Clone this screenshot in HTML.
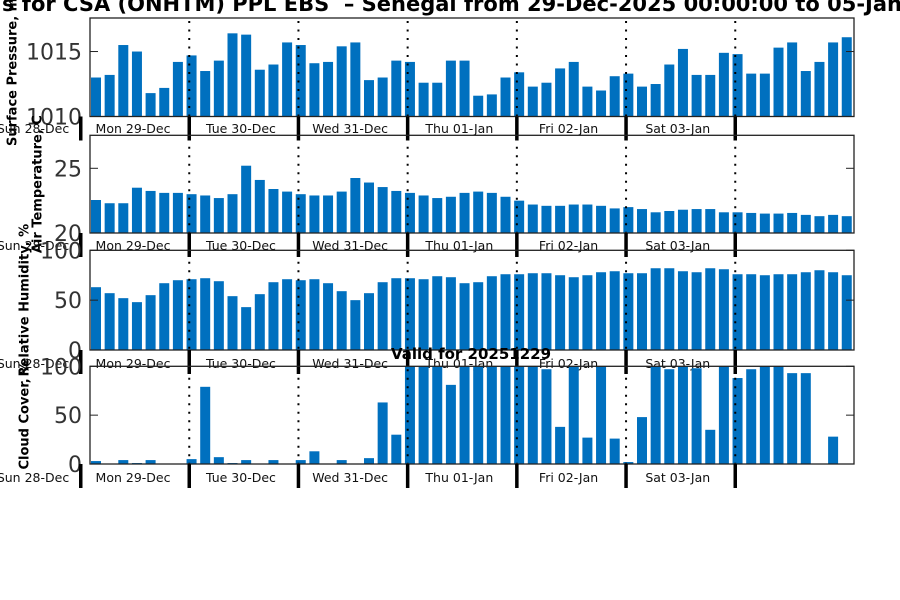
<!DOCTYPE html>
<html><head><meta charset="utf-8"><style>
html,body{margin:0;padding:0;background:#fff;width:900px;height:600px;overflow:hidden}
svg{display:block}
text{font-family:"DejaVu Sans","Liberation Sans",sans-serif}
</style></head><body>
<svg id="chart" width="900" height="600" viewBox="0 0 900 600"></svg>
<script>
const pressure=[1013.0,1013.2,1015.5,1015.0,1011.8,1012.2,1014.2,1014.7,1013.5,1014.3,1016.4,1016.3,1013.6,1014.0,1015.7,1015.5,1014.1,1014.2,1015.4,1015.7,1012.8,1013.0,1014.3,1014.2,1012.6,1012.6,1014.3,1014.3,1011.6,1011.7,1013.0,1013.4,1012.3,1012.6,1013.7,1014.2,1012.3,1012.0,1013.1,1013.3,1012.3,1012.5,1014.0,1015.2,1013.2,1013.2,1014.9,1014.8,1013.3,1013.3,1015.3,1015.7,1013.5,1014.2,1015.7,1016.1];
const temperature=[22.55,22.3,22.3,23.5,23.25,23.1,23.1,23.0,22.9,22.7,23.0,25.2,24.1,23.4,23.2,23.0,22.9,22.9,23.2,24.25,23.9,23.55,23.25,23.1,22.9,22.7,22.8,23.1,23.2,23.1,22.8,22.5,22.2,22.1,22.1,22.2,22.2,22.1,21.9,22.0,21.85,21.6,21.7,21.8,21.85,21.85,21.6,21.6,21.55,21.5,21.5,21.55,21.4,21.3,21.4,21.3];
const humidity=[63,57,52,48,55,67,70,71,72,69,54,43,56,68,71,70,71,67,59,50,57,68,72,72,71,74,73,67,68,74,76,76,77,77,75,73,75,78,79,77,77,82,82,79,78,82,81,76,76,75,76,76,78,80,78,75];
const cloud=[3,0,4,1,4,0,0,5,79,7,1,4,0,4,0,4,13,0,4,0,6,63,30,100,100,100,81,100,100,100,100,100,100,97,38,100,27,100,26,2,48,100,97,100,98,35,100,88,97,100,100,93,93,0,28,0];
const dayLabels=["Sun 28-Dec","Mon 29-Dec","Tue 30-Dec","Wed 31-Dec","Thu 01-Jan","Fri 02-Jan","Sat 03-Jan"];
const pressureTicks=[1010,1015];
const temperatureTicks=[20,25];
const percentTicks=[0,50,100];

const NS="http://www.w3.org/2000/svg";
const svg=document.getElementById('chart');
function mk(tag,attrs,parent){const e=document.createElementNS(NS,tag);for(const k in attrs)e.setAttribute(k,attrs[k]);(parent||svg).appendChild(e);return e;}
const X0=90,X1=854,firstC=96,step=13.65,bw=10;
function xs(i){return firstC+i*step;}
const panels=[
 {name:'pressure',data:pressure,top:18,bot:116.5,min:1010,max:1017.58,ticks:pressureTicks,label:'Surface Pressure, mb',lx:13,tickY:128},
 {name:'temperature',data:temperature,top:135.3,bot:233,min:20,max:27.55,ticks:temperatureTicks,label:'Air Temperature, C',lx:38,tickY:245},
 {name:'humidity',data:humidity,top:250.3,bot:350,min:0,max:100,ticks:percentTicks,label:'Relative Humidity, %',lx:25,tickY:363},
 {name:'cloud-cover',data:cloud,top:366.3,bot:464,min:0,max:100,ticks:percentTicks,label:'Cloud Cover, %',lx:25,tickY:477}
];
const title=mk('text',{x:2,y:11,'font-size':21,'font-weight':'bold',fill:'#000',style:'white-space:pre'});


title.textContent='s for CSA (ONHTM) PPL EBS  \u2013 Senegal from 29-Dec-2025 00:00:00 to 05-Jan-2026';
panels.forEach(p=>{
  const g=mk('g',{});
  
  
  const ys=v=>p.bot-(v-p.min)/(p.max-p.min)*(p.bot-p.top);
  p.data.forEach((v,i)=>{
    const y=Math.max(ys(v),p.top);
    const r=mk('rect',{x:xs(i)-bw/2,y:y,width:bw,height:Math.max(0,p.bot-y),fill:'#0070bf'},g);
    
    
  });
  for(let d=1;d<=6;d++){
    const x=xs(8*d-1)-2.3;
    const l=mk('line',{x1:x,x2:x,y1:p.top+3,y2:p.bot,stroke:'#000','stroke-width':2,'stroke-dasharray':'2,6.5'},g);
    
    
  }
  const f=mk('rect',{x:X0,y:p.top,width:X1-X0,height:p.bot-p.top,fill:'none',stroke:'#222','stroke-width':1.3},g);
  
  
  p.ticks.forEach(t=>{
    const y=ys(t);
    mk('line',{x1:X0,x2:X0+8,y1:y,y2:y,stroke:'#222'},g);
    mk('line',{x1:X1-8,x2:X1,y1:y,y2:y,stroke:'#222'},g);
    const tl=mk('text',{x:X0-8,y:y+8,'font-size':22,fill:'#333','text-anchor':'end'},g);
    
    
    tl.textContent=t;
  });
  const cy=(p.top+p.bot)/2;
  const yl=mk('text',{x:p.lx,y:cy,'font-size':13,'font-weight':'bold',fill:'#000','text-anchor':'middle',transform:`rotate(-90 ${p.lx} ${cy})`,'dominant-baseline':'middle'},g);
  
  
  yl.textContent=p.label;
  mk('rect',{x:79,y:p.bot,width:3.5,height:24,fill:'#000'},g);
  for(let d=1;d<=6;d++){
    const x=xs(8*d-1)-2.3;
    mk('rect',{x:x-1.75,y:p.bot,width:3.5,height:24,fill:'#000'},g);
  }
  dayLabels.forEach((lab,d)=>{
    let cx;
    if(d===0) cx=33;
    else if(d===1) cx=133;
    else cx=xs(8*(d-1)-1)-2.3+109.4/2-3;
    const t=mk('text',{x:cx,y:p.tickY+5,'font-size':12.5,fill:'#111','text-anchor':'middle'},g);
    
    
    t.textContent=lab;
  });
});
const v=mk('text',{x:471,y:359,'font-size':15,'font-weight':'bold',fill:'#000','text-anchor':'middle'});


v.textContent='Valid for 20251229';
</script>
</body></html>
